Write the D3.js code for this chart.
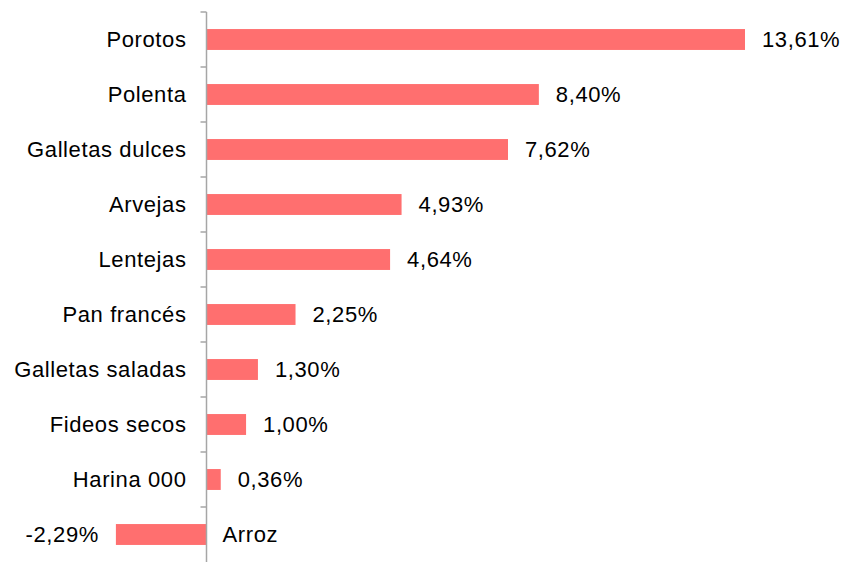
<!DOCTYPE html>
<meta charset="utf-8">
<script src="https://cdn.jsdelivr.net/npm/d3@7"></script>
<style>
body { margin: 0; background: #fff; }
text {
  fill: #000;
  font-family: "Liberation Sans", Arial, sans-serif;
  font-size: 22px;
  letter-spacing: 0.6px;
}
</style>
<body>
<script>

// data
var categories = ["Porotos", "Polenta", "Galletas dulces", "Arvejas", "Lentejas",
                  "Pan francés", "Galletas saladas", "Fideos secos", "Harina 000", "Arroz"];
var values = [13.61, 8.40, 7.62, 4.93, 4.64, 2.25, 1.30, 1.00, 0.36, -2.29];

var width = 844,
    height = 562;

var svg = d3.select("body").append("svg")
    .attr("width", width)
    .attr("height", height);

// x: percent, zero at the axis line
var x = d3.scaleLinear()
    .domain([0, 13.61])
    .range([206.5, 745]);

var y = d3.scaleBand()
    .domain(categories)
    .range([12, 562])
    .paddingInner(0.62)
    .paddingOuter(0.31);

// 13.61 -> "13,61%", plain hyphen for negatives
var fmt = function(v) {
  return (v < 0 ? "-" : "") + Math.abs(v).toFixed(2).replace(".", ",") + "%";
};

// bars
svg.append("g")
  .selectAll("rect")
  .data(values)
  .enter().append("rect")
    .attr("x", function(d) { return Math.min(x(0), x(d)); })
    .attr("y", function(d, i) { return y(categories[i]); })
    .attr("width", function(d) { return Math.abs(x(d) - x(0)); })
    .attr("height", y.bandwidth())
    .attr("fill", "#ff6f6f");

// axis line + ticks between categories
var axis = svg.append("g").attr("stroke", "#a6a6a6").attr("stroke-width", 1.5);
axis.append("line")
    .attr("x1", x(0)).attr("x2", x(0))
    .attr("y1", 12).attr("y2", height);
var step = y.step();
d3.range(categories.length).forEach(function(i) {
  axis.append("line")
      .attr("x1", x(0) - 6).attr("x2", x(0))
      .attr("y1", 12 + i * step).attr("y2", 12 + i * step);
});

// category labels
svg.append("g")
  .selectAll("text")
  .data(categories)
  .enter().append("text")
    .attr("x", function(d, i) { return values[i] < 0 ? x(0) + 16 : x(0) - 20; })
    .attr("y", function(d) { return y(d) + y.bandwidth() / 2; })
    .attr("dy", "0.36em")
    .attr("text-anchor", function(d, i) { return values[i] < 0 ? "start" : "end"; })
    .text(function(d) { return d; });

// value labels
svg.append("g")
  .selectAll("text")
  .data(values)
  .enter().append("text")
    .attr("x", function(d) { return d < 0 ? x(d) - 17 : x(d) + 17; })
    .attr("y", function(d, i) { return y(categories[i]) + y.bandwidth() / 2; })
    .attr("dy", "0.36em")
    .attr("text-anchor", function(d) { return d < 0 ? "end" : "start"; })
    .text(fmt);

</script>
</body>
